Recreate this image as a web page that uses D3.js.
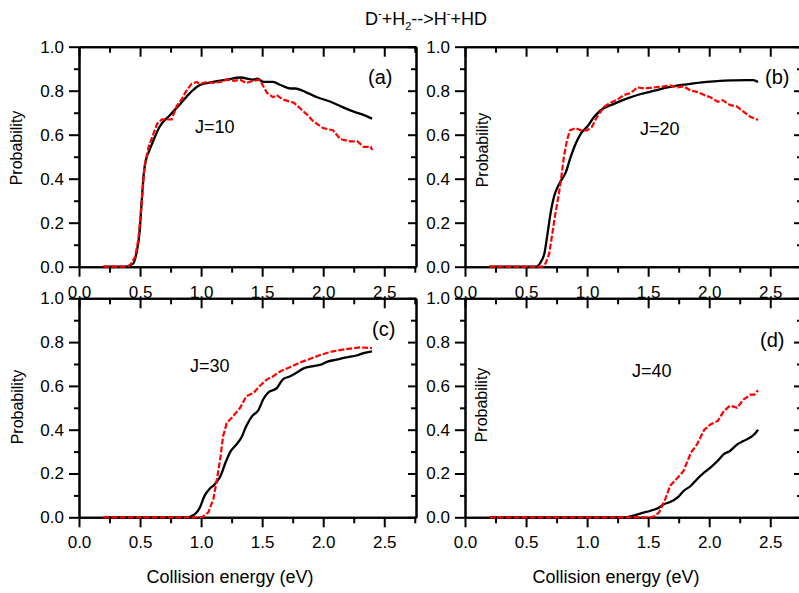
<!DOCTYPE html>
<html>
<head>
<meta charset="utf-8">
<script src="https://cdn.jsdelivr.net/npm/d3@7"></script>
<style>
body { margin: 0; background: white; }
text { font-family: "Liberation Sans", Arial, Helvetica, sans-serif; }
</style>
</head>
<body>
<script>
// tick values
const xMajor = [0, 0.5, 1.0, 1.5, 2.0, 2.5];
const xMinor = [0.25, 0.75, 1.25, 1.75, 2.25, 2.75];
const yMajor = [0, 0.2, 0.4, 0.6, 0.8, 1.0];
const yMinor = [0.1, 0.3, 0.5, 0.7, 0.9];

// panel (a) J=10
const eA_black = [0.2, 0.38, 0.445, 0.47, 0.495, 0.514, 0.53, 0.55, 0.57, 0.61, 0.66, 0.746, 0.83, 0.91, 0.99, 1.1, 1.21, 1.32, 1.43, 1.46, 1.51, 1.59, 1.65, 1.73, 1.77, 1.87, 1.95, 2.06, 2.14, 2.25, 2.33, 2.4];
const pA_black = [0, 0, 0.015, 0.06, 0.15, 0.30, 0.42, 0.49, 0.52, 0.575, 0.636, 0.69, 0.74, 0.79, 0.826, 0.84, 0.85, 0.86, 0.85, 0.855, 0.84, 0.84, 0.826, 0.81, 0.81, 0.79, 0.77, 0.75, 0.73, 0.705, 0.69, 0.673];
const eA_red = [0.2, 0.39, 0.42, 0.46, 0.485, 0.51, 0.535, 0.57, 0.6, 0.64, 0.68, 0.72, 0.76, 0.8, 0.84, 0.88, 0.92, 0.965, 0.99, 1.05, 1.1, 1.16, 1.21, 1.27, 1.32, 1.37, 1.43, 1.48, 1.54, 1.59, 1.62, 1.67, 1.76, 1.81, 1.87, 1.92, 2.0, 2.08, 2.14, 2.22, 2.28, 2.33, 2.39, 2.4];
const pA_red = [0, 0, 0.008, 0.045, 0.12, 0.27, 0.45, 0.545, 0.59, 0.65, 0.67, 0.67, 0.67, 0.73, 0.76, 0.80, 0.83, 0.84, 0.83, 0.84, 0.835, 0.84, 0.85, 0.845, 0.85, 0.835, 0.845, 0.85, 0.79, 0.77, 0.78, 0.76, 0.745, 0.72, 0.69, 0.66, 0.63, 0.62, 0.58, 0.57, 0.57, 0.545, 0.545, 0.53];

// panel (b) J=20
const eB_black = [0.2, 0.58, 0.62, 0.65, 0.676, 0.70, 0.73, 0.757, 0.785, 0.826, 0.866, 0.907, 0.95, 1.0, 1.057, 1.11, 1.22, 1.33, 1.44, 1.55, 1.66, 1.77, 1.87, 1.98, 2.09, 2.2, 2.31, 2.36, 2.4];
const pB_black = [0, 0, 0.02, 0.06, 0.15, 0.24, 0.32, 0.36, 0.39, 0.43, 0.5, 0.56, 0.606, 0.636, 0.68, 0.71, 0.74, 0.765, 0.785, 0.80, 0.815, 0.826, 0.833, 0.84, 0.845, 0.847, 0.848, 0.848, 0.84];
const eB_red = [0.2, 0.63, 0.66, 0.69, 0.715, 0.74, 0.765, 0.785, 0.81, 0.835, 0.86, 0.907, 0.95, 1.0, 1.04, 1.08, 1.14, 1.19, 1.25, 1.30, 1.36, 1.41, 1.47, 1.55, 1.63, 1.68, 1.74, 1.79, 1.85, 1.9, 1.96, 2.01, 2.07, 2.11, 2.17, 2.23, 2.28, 2.34, 2.37, 2.4];
const pB_red = [0, 0, 0.015, 0.06, 0.15, 0.24, 0.32, 0.39, 0.5, 0.575, 0.62, 0.63, 0.62, 0.62, 0.636, 0.68, 0.727, 0.745, 0.76, 0.78, 0.79, 0.815, 0.81, 0.815, 0.82, 0.824, 0.815, 0.82, 0.80, 0.795, 0.78, 0.77, 0.75, 0.757, 0.735, 0.727, 0.705, 0.68, 0.674, 0.667];

// panel (c) J=30
const eC_black = [0.2, 0.88, 0.92, 0.965, 0.99, 1.03, 1.07, 1.11, 1.16, 1.2, 1.24, 1.29, 1.33, 1.37, 1.415, 1.47, 1.51, 1.55, 1.62, 1.67, 1.73, 1.78, 1.84, 1.92, 1.98, 2.03, 2.11, 2.19, 2.28, 2.33, 2.4];
const pC_black = [0, 0, 0.005, 0.023, 0.045, 0.1, 0.13, 0.15, 0.19, 0.25, 0.30, 0.333, 0.364, 0.417, 0.46, 0.49, 0.54, 0.57, 0.59, 0.63, 0.644, 0.66, 0.68, 0.69, 0.697, 0.71, 0.72, 0.73, 0.74, 0.75, 0.758];
const eC_red = [0.2, 1.0, 1.02, 1.06, 1.1, 1.13, 1.16, 1.18, 1.21, 1.26, 1.32, 1.37, 1.43, 1.48, 1.54, 1.59, 1.65, 1.73, 1.81, 1.89, 1.98, 2.08, 2.19, 2.3, 2.4];
const pC_red = [0, 0, 0.005, 0.023, 0.083, 0.174, 0.28, 0.37, 0.43, 0.46, 0.5, 0.553, 0.568, 0.6, 0.63, 0.644, 0.667, 0.686, 0.707, 0.723, 0.742, 0.758, 0.768, 0.776, 0.773];

// panel (d) J=40
const eD_black = [0.2, 1.32, 1.38, 1.44, 1.52, 1.575, 1.63, 1.68, 1.74, 1.79, 1.85, 1.9, 1.96, 2.01, 2.07, 2.12, 2.17, 2.23, 2.28, 2.37, 2.4];
const pD_black = [0, 0, 0.008, 0.018, 0.03, 0.04, 0.06, 0.07, 0.09, 0.12, 0.144, 0.174, 0.205, 0.227, 0.258, 0.288, 0.303, 0.333, 0.348, 0.379, 0.4];
const eD_red = [0.2, 1.52, 1.55, 1.59, 1.615, 1.64, 1.68, 1.74, 1.79, 1.85, 1.9, 1.96, 2.01, 2.07, 2.12, 2.17, 2.23, 2.28, 2.34, 2.37, 2.4];
const pD_red = [0, 0, 0.005, 0.023, 0.053, 0.083, 0.144, 0.18, 0.212, 0.295, 0.333, 0.4, 0.424, 0.44, 0.485, 0.51, 0.5, 0.538, 0.56, 0.56, 0.58];

let width = 799, height = 593;
let plotW = 337;

let svg = d3.select("body")
    .append("svg")
    .attr("width", width)
    .attr("height", height)
    .style("background", "white");

// panel layout
const panels = [
  {tag: "(a)", jText: "J=10", left: 79, top: 46.7, h: 220, eb: eA_black, pb: pA_black, er: eA_red, pr: pA_red,
   tagX: 368, tagY: 84, jX: 195, jY: 133, probX: 16, probY: 148, xTitle: false},
  {tag: "(b)", jText: "J=20", left: 465, top: 46.7, h: 220, eb: eB_black, pb: pB_black, er: eB_red, pr: pB_red,
   tagX: 765, tagY: 84, jX: 640, jY: 135, probX: 482, probY: 150, xTitle: false},
  {tag: "(c)", jText: "J=30", left: 79, top: 298.3, h: 219, eb: eC_black, pb: pC_black, er: eC_red, pr: pC_red,
   tagX: 372, tagY: 336, jX: 190, jY: 372, probX: 17, probY: 407, xTitle: true},
  {tag: "(d)", jText: "J=40", left: 465, top: 298.3, h: 219, eb: eD_black, pb: pD_black, er: eD_red, pr: pD_red,
   tagX: 760, tagY: 347, jX: 632, jY: 377, probX: 481, probY: 405, xTitle: true}
];

function styleAxis(g) {
  g.selectAll("path, line").attr("stroke", "black").attr("stroke-width", 2);
  g.attr("font-size", 17).attr("font-family", "'Liberation Sans', Arial, sans-serif");
  g.selectAll("text").attr("fill", "black");
}

panels.forEach(function(p) {
  let xScale = d3.scaleLinear().domain([0, 2.76]).range([p.left, p.left + plotW]);
  let yScale = d3.scaleLinear().domain([0, 1]).range([p.top + p.h, p.top]);
  let bottom = p.top + p.h;
  let right = p.left + plotW;

  let g = svg.append("g");

  // bottom axis (outward ticks)
  g.append("g").attr("transform", `translate(0,${bottom})`)
    .call(d3.axisBottom(xScale).tickValues(xMajor).tickSize(10).tickSizeOuter(0).tickPadding(9).tickFormat(d3.format(".1f")))
    .call(styleAxis);
  g.append("g").attr("transform", `translate(0,${bottom})`)
    .call(d3.axisBottom(xScale).tickValues(xMinor.filter(d => d < 2.76)).tickSize(6).tickSizeOuter(0).tickFormat(""))
    .call(styleAxis);

  // top axis (inward ticks)
  g.append("g").attr("transform", `translate(0,${p.top})`)
    .call(d3.axisBottom(xScale).tickValues(xMajor).tickSize(10).tickSizeOuter(0).tickFormat(""))
    .call(styleAxis);
  g.append("g").attr("transform", `translate(0,${p.top})`)
    .call(d3.axisBottom(xScale).tickValues(xMinor.filter(d => d < 2.76)).tickSize(6).tickSizeOuter(0).tickFormat(""))
    .call(styleAxis);

  // left axis (outward ticks)
  g.append("g").attr("transform", `translate(${p.left},0)`)
    .call(d3.axisLeft(yScale).tickValues(yMajor).tickSize(10).tickSizeOuter(0).tickPadding(5).tickFormat(d3.format(".1f")))
    .call(styleAxis);
  g.append("g").attr("transform", `translate(${p.left},0)`)
    .call(d3.axisLeft(yScale).tickValues(yMinor).tickSize(5).tickSizeOuter(0).tickFormat(""))
    .call(styleAxis);

  // right axis (inward ticks)
  g.append("g").attr("transform", `translate(${right},0)`)
    .call(d3.axisLeft(yScale).tickValues(yMajor).tickSize(8).tickSizeOuter(0).tickFormat(""))
    .call(styleAxis);
  g.append("g").attr("transform", `translate(${right},0)`)
    .call(d3.axisLeft(yScale).tickValues(yMinor).tickSize(5).tickSizeOuter(0).tickFormat(""))
    .call(styleAxis);

  // curves
  let line = d3.line()
    .x(d => xScale(d[0]))
    .y(d => yScale(d[1]));

  g.append("path")
    .datum(p.eb.map((e, i) => [e, p.pb[i]]))
    .attr("d", line.curve(d3.curveMonotoneX))
    .attr("fill", "none")
    .attr("stroke", "black")
    .attr("stroke-width", 2.3);

  g.append("path")
    .datum(p.er.map((e, i) => [e, p.pr[i]]))
    .attr("d", line.curve(d3.curveLinear))
    .attr("fill", "none")
    .attr("stroke", "#ff0000")
    .attr("stroke-width", 2.2)
    .attr("stroke-dasharray", "6,2");

  // labels
  g.append("text")
    .attr("x", p.tagX).attr("y", p.tagY)
    .attr("font-size", 20)
    .text(p.tag);

  g.append("text")
    .attr("x", p.jX).attr("y", p.jY)
    .attr("font-size", 18)
    .text(p.jText);

  g.append("text")
    .attr("transform", `translate(${p.probX},${p.probY}) rotate(-90)`)
    .attr("text-anchor", "middle")
    .attr("dy", "0.35em")
    .attr("font-size", 16)
    .text("Probability");

  if (p.xTitle) {
    g.append("text")
      .attr("x", p.left + 151).attr("y", 583)
      .attr("text-anchor", "middle")
      .attr("font-size", 18)
      .text("Collision energy (eV)");
  }
});

// title D- + H2 --> H- + HD
let title = svg.append("text")
    .attr("x", 426).attr("y", 25)
    .attr("text-anchor", "middle")
    .attr("font-size", 18);
title.append("tspan").text("D");
title.append("tspan").attr("dy", -8).attr("font-size", 11).text("-");
title.append("tspan").attr("dy", 8).text("+H");
title.append("tspan").attr("dy", 5).attr("font-size", 11).text("2");
title.append("tspan").attr("dy", -5).text("-->H");
title.append("tspan").attr("dy", -8).attr("font-size", 11).text("-");
title.append("tspan").attr("dy", 8).text("+HD");
</script>
</body>
</html>
